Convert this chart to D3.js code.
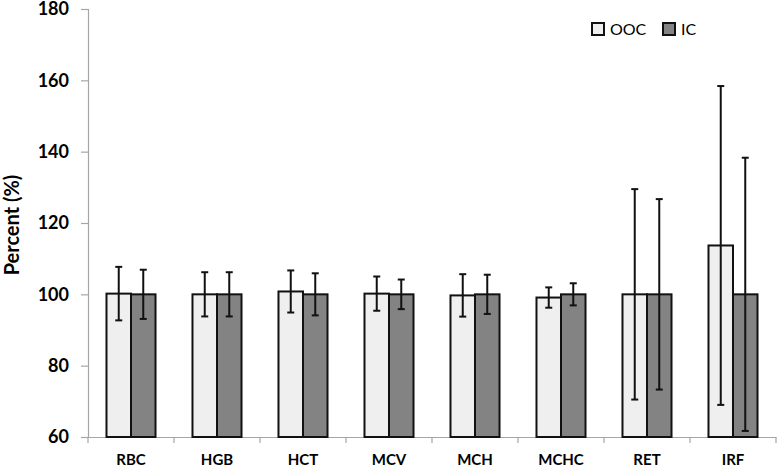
<!DOCTYPE html>
<html>
<head>
<meta charset="utf-8">
<script src="https://cdn.jsdelivr.net/npm/d3@7"></script>
<style>
  html, body { margin: 0; padding: 0; background: #fff; }
  svg { display: block; }
</style>
</head>
<body>
<svg id="chart" width="778" height="468"></svg>
<script>
const categories = ["RBC", "HGB", "HCT", "MCV", "MCH", "MCHC", "RET", "IRF"];
const seriesNames = ["OOC", "IC"];
const oocMeans = [100.2, 100.0, 100.8, 100.2, 99.7, 99.1, 100.0, 113.7];
const oocErrors = [7.5, 6.2, 5.9, 4.8, 5.95, 2.85, 29.5, 44.7];
const icMeans = [100, 100, 100, 100, 100, 100, 100, 100];
const icErrors = [6.9, 6.2, 5.9, 4.15, 5.5, 3.1, 26.7, 38.3];
const yTicks = [60, 80, 100, 120, 140, 160, 180];

(function () {
const fills = { OOC: "#efefef", IC: "#838383" };
const svg = d3.select("#chart");
const mLeft = 88, mRight = 776, mTop = 9, mBottom = 437;
const font = "Lato, 'Open Sans', sans-serif";

const y = d3.scaleLinear().domain([60, 180]).range([mBottom, mTop]);
const x0 = d3.scaleBand().domain(categories).range([mLeft, mRight])
  .paddingInner(0.43).paddingOuter(0.215);
const x1 = d3.scaleBand().domain(seriesNames).range([0, x0.bandwidth()]);

const data = categories.map((c, i) => ({
  cat: c,
  vals: [
    { s: "OOC", v: oocMeans[i], e: oocErrors[i] },
    { s: "IC", v: icMeans[i], e: icErrors[i] }
  ]
}));

// Y axis
const yAxis = svg.append("g").attr("transform", `translate(${mLeft},0)`)
  .call(d3.axisLeft(y).tickValues(yTicks).tickSize(7).tickPadding(12));
yAxis.select(".domain").attr("stroke", "#a6a6a6").attr("stroke-width", 1.2);
yAxis.selectAll(".tick line").attr("stroke", "#a6a6a6").attr("stroke-width", 1.2);
yAxis.selectAll(".tick text").attr("font-family", font).attr("font-weight", "bold")
  .attr("font-size", 18).attr("fill", "#000");

// X axis: labels, ticks at category boundaries
const xAxis = svg.append("g").attr("transform", `translate(0,${mBottom})`)
  .call(d3.axisBottom(x0).tickSize(0).tickPadding(17).tickSizeOuter(0));
xAxis.select(".domain").attr("stroke", "#a6a6a6").attr("stroke-width", 1.2);
xAxis.selectAll(".tick text").attr("font-family", font).attr("font-weight", "bold")
  .attr("font-size", 15).attr("fill", "#000");
const step = x0.step();
const boundaries = categories.map(c => x0(c) - x0.paddingInner() * step / 2);
boundaries.push(mRight);
xAxis.selectAll(".bnd").data(boundaries).enter().append("line")
  .attr("class", "bnd")
  .attr("x1", d => d).attr("x2", d => d)
  .attr("y1", 0).attr("y2", 6)
  .attr("stroke", "#a6a6a6").attr("stroke-width", 1.2);

// Y axis title
svg.append("text")
  .attr("transform", `translate(19,225) rotate(-90)`)
  .attr("text-anchor", "middle")
  .attr("font-family", font).attr("font-weight", "bold").attr("font-size", 20)
  .attr("fill", "#000")
  .text("Percent (%)");

// Bars
const groups = svg.selectAll(".grp").data(data).enter().append("g")
  .attr("class", "grp")
  .attr("transform", d => `translate(${x0(d.cat)},0)`);

groups.selectAll("rect").data(d => d.vals).enter().append("rect")
  .attr("x", d => x1(d.s))
  .attr("y", d => y(d.v))
  .attr("width", x1.bandwidth())
  .attr("height", d => y(60) - y(d.v))
  .attr("fill", d => fills[d.s])
  .attr("stroke", "#111")
  .attr("stroke-width", 2);

// Error bars
const capW = 3.5;
const eb = groups.selectAll(".eb").data(d => d.vals).enter().append("g").attr("class", "eb");
const cx = d => x1(d.s) + x1.bandwidth() / 2;
eb.append("line")
  .attr("x1", cx).attr("x2", cx)
  .attr("y1", d => y(d.v + d.e))
  .attr("y2", d => y(Math.max(60, d.v - d.e)))
  .attr("stroke", "#111").attr("stroke-width", 2);
eb.append("line")
  .attr("x1", d => cx(d) - capW).attr("x2", d => cx(d) + capW)
  .attr("y1", d => y(d.v + d.e)).attr("y2", d => y(d.v + d.e))
  .attr("stroke", "#111").attr("stroke-width", 2);
eb.append("line")
  .attr("x1", d => cx(d) - capW).attr("x2", d => cx(d) + capW)
  .attr("y1", d => y(d.v - d.e)).attr("y2", d => y(d.v - d.e))
  .attr("stroke", "#111").attr("stroke-width", 2);

// Legend
const legend = svg.append("g").attr("transform", "translate(592,23)");
const legX = [0, 71];
seriesNames.forEach((s, i) => {
  const g = legend.append("g").attr("transform", `translate(${legX[i]},0)`);
  g.append("rect").attr("x", 0).attr("y", 0).attr("width", 12).attr("height", 12)
    .attr("fill", fills[s]).attr("stroke", "#111").attr("stroke-width", 2);
  g.append("text").attr("x", 18).attr("y", 12)
    .attr("font-family", font).attr("font-size", 16).attr("fill", "#000")
    .text(s);
});
})();
</script>
</body>
</html>
